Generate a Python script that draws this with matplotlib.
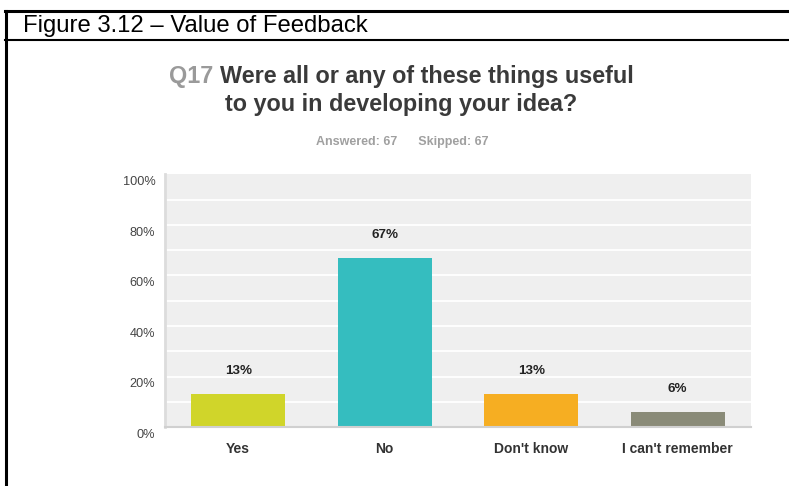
import matplotlib
matplotlib.use("Agg")
import matplotlib.pyplot as plt
import matplotlib.transforms as mtransforms
from matplotlib.lines import Line2D

plt.rcParams['font.family'] = ['Liberation Sans', 'DejaVu Sans']

categories = ["Yes", "No", "Don't know", "I can't remember"]
percentages = [13, 67, 13, 6]
bar_colors = ["#d0d52a", "#35bdbf", "#f6ae22", "#8a8b78"]
y_ticks = [0, 20, 40, 60, 80, 100]

W, H = 789, 486
fig = plt.figure(figsize=(W / 100, H / 100), dpi=100)


def fx(px):
    return px / W


def fy(py):
    return 1 - py / H


# Outer frame: top rule, left rule and header underline
fig.add_artist(Line2D([fx(5), fx(789)], [fy(11), fy(11)], color="black", lw=2.2))
fig.add_artist(Line2D([fx(6), fx(6)], [fy(11), fy(486)], color="black", lw=2.2))
fig.add_artist(Line2D([fx(5), fx(789)], [fy(40), fy(40)], color="black", lw=1.5))
fig.text(fx(23), fy(26), "Figure 3.12 \u2013 Value of Feedback", fontsize=17.2,
         color="black", va="center", ha="left")

# Question title
title_fs = 16.8
q = fig.text(fx(169), fy(77), "Q17 ", fontsize=title_fs, fontweight="bold",
             color="#9a9a9a", va="center", ha="left")
fig.canvas.draw()
q_right = q.get_window_extent().x1
fig.text(q_right / W, fy(77), "Were all or any of these things useful",
         fontsize=title_fs, fontweight="bold", color="#3a3a3a", va="center", ha="left")
fig.text(fx(401), fy(105), "to you in developing your idea?",
         fontsize=title_fs, fontweight="bold", color="#3a3a3a", va="center", ha="center")
fig.text(fx(402), fy(142), "Answered: 67      Skipped: 67", fontsize=9,
         fontweight="bold", color="#a0a0a0", va="center", ha="center")

ax = fig.add_axes([fx(165), fy(427), fx(751) - fx(165), fy(174.5) - fy(427)])
ax.set_facecolor("#efefef")
ax.set_xlim(-0.5, len(categories) - 0.5)
ax.set_ylim(0, 100)

for v in range(10, 100, 10):
    ax.axhline(v, color="white", lw=1.3, zorder=1)

x = list(range(len(categories)))
ax.bar(x, percentages, width=0.64, color=bar_colors, zorder=2)

for xi, v in zip(x, percentages):
    ax.annotate(f"{v}%", (xi, v), xytext=(0, 23), textcoords="offset pixels",
                ha="center", va="center", fontsize=9.6, fontweight="bold",
                color="#222222")

for s in ["top", "right"]:
    ax.spines[s].set_visible(False)
ax.spines["left"].set_color("#dcdcdc")
ax.spines["left"].set_linewidth(2)
ax.spines["bottom"].set_color("#d0d0d0")
ax.spines["bottom"].set_linewidth(1.5)

ax.set_yticks(y_ticks)
ax.set_yticklabels([f"{t}%" for t in y_ticks], fontsize=9.2, color="#444444")
ax.tick_params(axis="y", length=0, pad=7)
shift = mtransforms.ScaledTranslation(0, -7.5 / 100, fig.dpi_scale_trans)
for lbl in ax.get_yticklabels():
    lbl.set_verticalalignment("center")
    lbl.set_transform(lbl.get_transform() + shift)

ax.set_xticks(x)
ax.set_xticklabels(categories, fontsize=10, fontweight="bold", color="#333333")
ax.tick_params(axis="x", length=0, pad=11)

fig.savefig("out.png", dpi=100)
